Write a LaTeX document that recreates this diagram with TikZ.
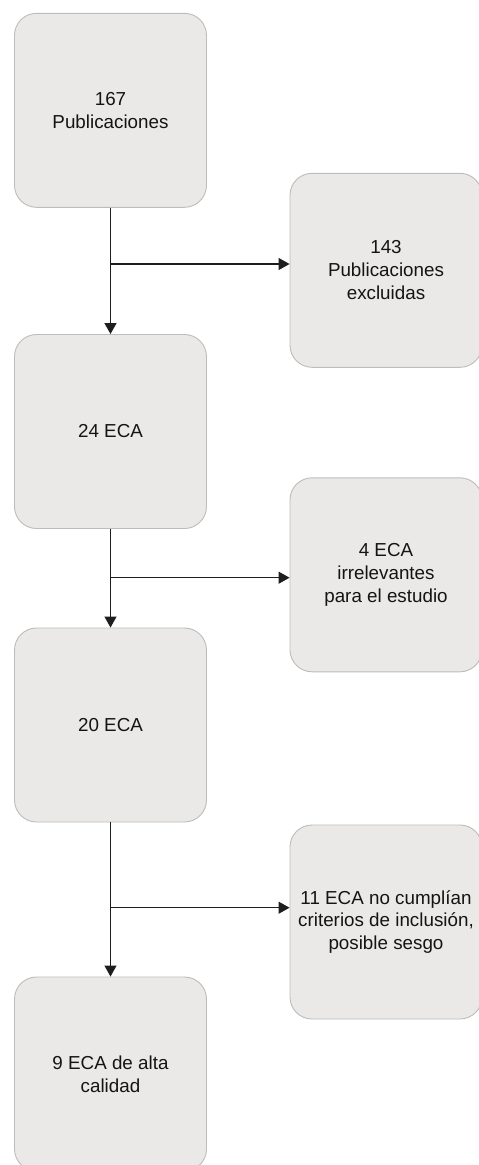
\documentclass[tikz,border=0pt]{standalone}
\usepackage{fontspec}
\setmainfont{Liberation Sans}
\usetikzlibrary{arrows.meta}
\definecolor{boxfill}{RGB}{234,233,232}
\definecolor{boxline}{RGB}{188,188,188}
\definecolor{txt}{RGB}{20,20,20}
\definecolor{conn}{RGB}{30,30,30}
\tikzset{
  stepbox/.style={draw=boxline, line width=0.9pt, fill=boxfill, rounded corners=22pt,
    minimum width=192pt, minimum height=194pt, inner sep=0pt, align=center,
    text=txt, font=\fontsize{18.8}{22.8}\selectfont},
  flow/.style={draw=conn, line width=1.2pt, -{Triangle[length=11pt,width=12pt]}}
}
\begin{document}
\begin{tikzpicture}[x=1pt,y=-1pt]
\useasboundingbox (0,0) rectangle (479,1165);
\node[stepbox] (b1) at (110.5,110.3) {167\\Publicaciones};
\node[stepbox] (b2) at (386,270.3) {143\\Publicaciones\\excluidas};
\node[stepbox] (b3) at (110.5,431.5) {24 ECA};
\node[stepbox] (b4) at (386,574.8) {4 ECA\\irrelevantes\\para el estudio};
\node[stepbox] (b5) at (110.5,725) {20 ECA};
\node[stepbox] (b6) at (386,922) {11 ECA no cumplían\\criterios de inclusión,\\posible sesgo};
\node[stepbox] (b7) at (110.5,1074) {9 ECA de alta\\calidad};
\coordinate (j1) at (110.5,264);
\coordinate (j2) at (110.5,577.7);
\coordinate (j3) at (110.5,907.7);
\draw[flow] (b1.south) -- (b3.north);
\draw[flow] (j1) -- (j1 -| b2.west);
\draw[flow] (b3.south) -- (b5.north);
\draw[flow] (j2) -- (j2 -| b4.west);
\draw[flow] (b5.south) -- (b7.north);
\draw[flow] (j3) -- (j3 -| b6.west);
\end{tikzpicture}
\end{document}
